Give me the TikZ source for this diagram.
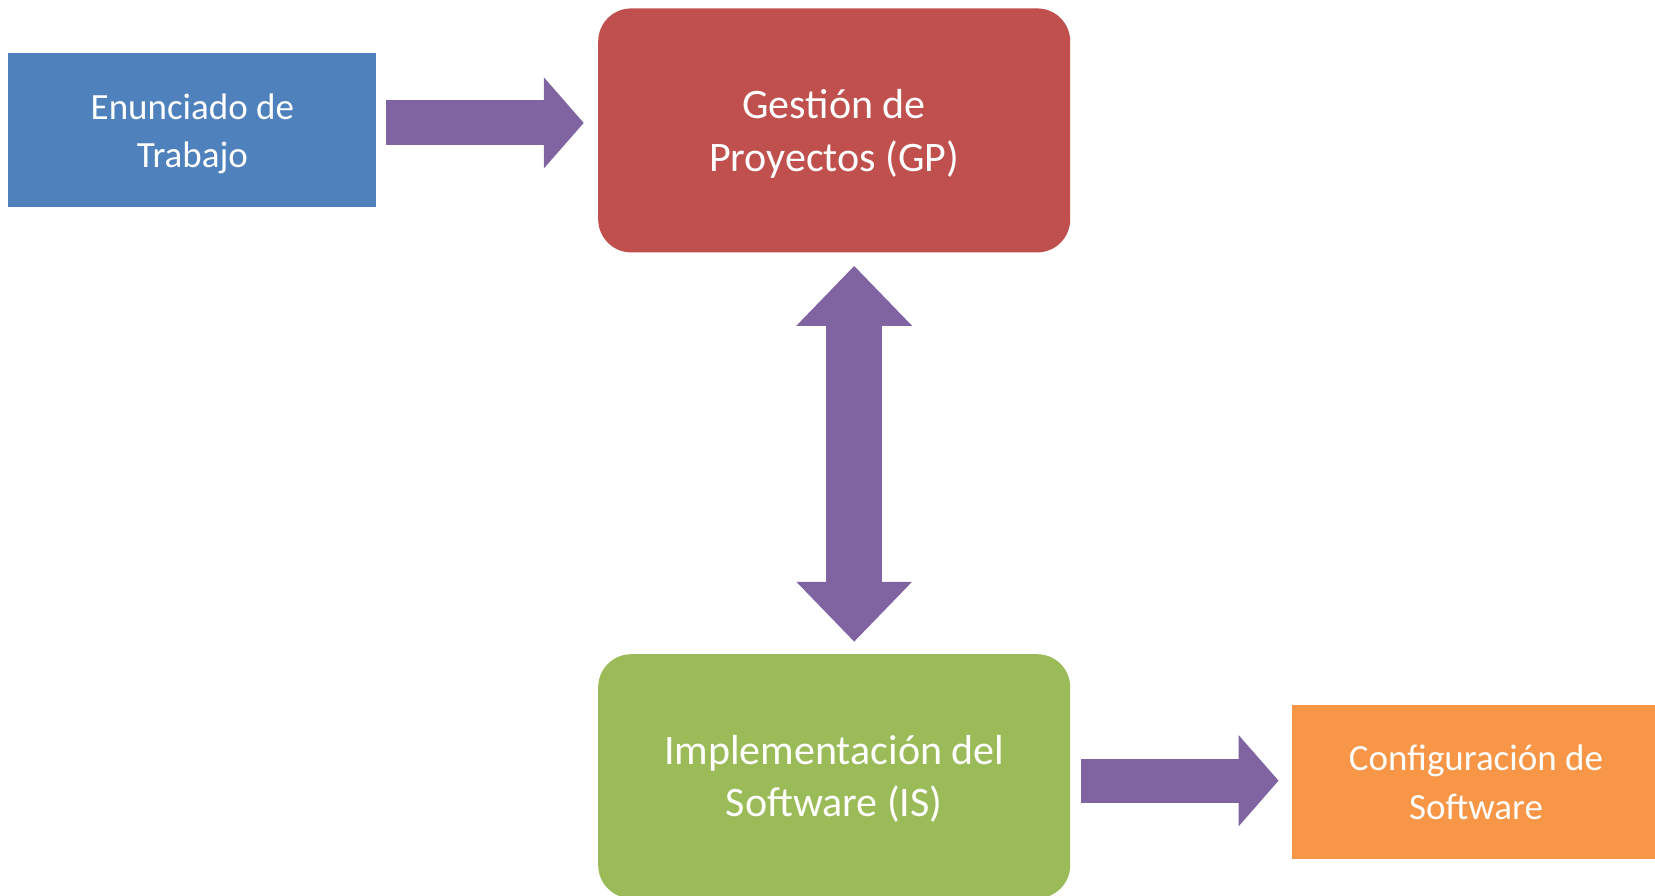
\documentclass[tikz,border=0pt]{standalone}
\usepackage{fontspec}
\setmainfont{Carlito}
\usetikzlibrary{arrows.meta, positioning}
\definecolor{blockblue}{HTML}{4F81BD}
\definecolor{blockred}{HTML}{C0504D}
\definecolor{blockgreen}{HTML}{9BBB59}
\definecolor{blockorange}{HTML}{F79646}
\definecolor{arrowpurple}{HTML}{8064A2}
\tikzstyle{block} = [rectangle, text=white, text centered, align=center, minimum height=77pt, minimum width=184pt, font=\fontsize{18.5}{24.2}\selectfont, text depth=-1.8pt]
\tikzstyle{phase} = [rectangle, rounded corners=16.5pt, text=white, text centered, align=center, minimum height=122pt, minimum width=236pt, font=\fontsize{21}{26.2}\selectfont, text depth=-2pt]
\tikzstyle{arrow} = [draw=arrowpurple, line width=22.5pt, -{Triangle[width=44.5pt, length=20pt]}]
\tikzstyle{bigarrow} = [draw=arrowpurple, line width=28pt, {Triangle[width=56pt, length=30pt]}-{Triangle[width=56pt, length=30pt]}]

\begin{document}
\begin{tikzpicture}

    % Blocks
    \node (enunciado) [block, fill=blockblue] {Enunciado de\\Trabajo};
    \node (gestion) [phase, fill=blockred, right=110.5pt of enunciado] {Gestión de\\Proyectos (GP)};
    \node (implementacion) [phase, fill=blockgreen, below=200.5pt of gestion] {Implementación del\\Software (IS)};
    \node (configuracion) [block, fill=blockorange, right=110.5pt of implementacion, yshift=-2.9pt] {Configuración de\\Software};

    \pgfresetboundingbox
    \useasboundingbox ([xshift=-4pt, yshift=26.5pt]enunciado.north west) rectangle ++(827.5pt,-447.5pt);

    % Arrows
    \draw [arrow, shorten <=4.5pt, shorten >=7pt] ([yshift=3.75pt]enunciado.east) -- ([yshift=3.75pt]enunciado.east -| gestion.west);
    \draw [bigarrow, shorten <=6.5pt, shorten >=6pt] ([xshift=10pt]gestion.south) -- ([xshift=10pt]implementacion.north);
    \draw [arrow, line width=22pt, shorten <=5pt, shorten >=6.5pt] ([yshift=-2.25pt]implementacion.east) -- ([yshift=-2.25pt]implementacion.east -| configuracion.west);

\end{tikzpicture}
\end{document}
